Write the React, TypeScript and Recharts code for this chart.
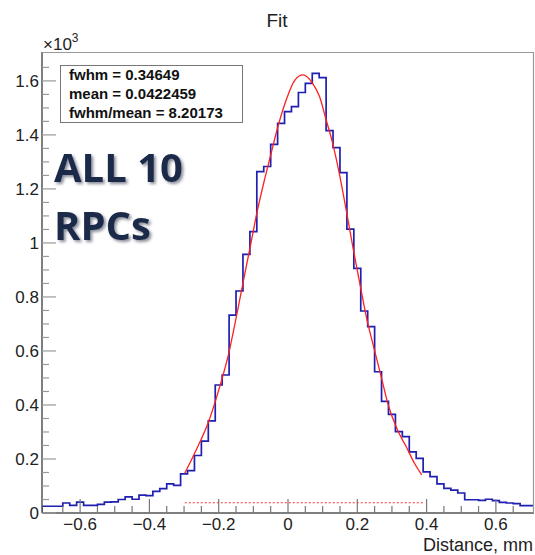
import { ComposedChart, Line, XAxis, YAxis } from "recharts";

// histogram, 71 bins of 0.02 mm from -0.71 to 0.71, entries in units of 10^3
const binLow = -0.71;
const binWidth = 0.02;
const counts = [
  0.025, 0.025, 0.025, 0.037, 0.028, 0.040, 0.028, 0.028, 0.032, 0.040,
  0.041, 0.050, 0.060, 0.051, 0.066, 0.064, 0.080, 0.090, 0.108, 0.102,
  0.145, 0.157, 0.213, 0.266, 0.341, 0.474, 0.511, 0.733, 0.822, 0.958,
  1.042, 1.264, 1.283, 1.365, 1.443, 1.486, 1.505, 1.557, 1.591, 1.628,
  1.612, 1.416, 1.353, 1.260, 1.051, 0.906, 0.748, 0.690, 0.523, 0.413,
  0.365, 0.301, 0.283, 0.226, 0.202, 0.152, 0.135, 0.108, 0.091, 0.085,
  0.074, 0.049, 0.049, 0.047, 0.051, 0.046, 0.039, 0.037, 0.035, 0.027,
  0.027,
];

// fitted curve
const fitX = [
  -0.298, -0.265, -0.231, -0.197, -0.171, -0.149, -0.13, -0.109, -0.09, -0.068,
  -0.051, -0.029, -0.005, 0.019, 0.043, 0.071, 0.091, 0.11, 0.129, 0.148,
  0.168, 0.187, 0.209, 0.228, 0.247, 0.269, 0.288, 0.316, 0.341, 0.365, 0.386,
];
const fitY = [
  0.147, 0.233, 0.332, 0.468, 0.591, 0.727, 0.851, 0.986, 1.11, 1.233,
  1.32, 1.431, 1.53, 1.601, 1.622, 1.591, 1.542, 1.456, 1.369, 1.258,
  1.122, 0.986, 0.838, 0.715, 0.616, 0.505, 0.406, 0.307, 0.246, 0.184, 0.141,
];

// fit range marker
const rangeX = [-0.298, 0.389];
const rangeY = 0.038;

const xTicks = [
  -0.65, -0.6, -0.55, -0.5, -0.45, -0.4, -0.35, -0.3, -0.25, -0.2, -0.15, -0.1, -0.05,
  0, 0.05, 0.1, 0.15, 0.2, 0.25, 0.3, 0.35, 0.4, 0.45, 0.5, 0.55, 0.6, 0.65,
];
const yTicks = [
  0, 0.05, 0.1, 0.15, 0.2, 0.25, 0.3, 0.35, 0.4, 0.45, 0.5, 0.55, 0.6, 0.65, 0.7,
  0.75, 0.8, 0.85, 0.9, 0.95, 1, 1.05, 1.1, 1.15, 1.2, 1.25, 1.3, 1.35, 1.4, 1.45,
  1.5, 1.55, 1.6, 1.65,
];

const statLines = ["fwhm = 0.34649", "mean = 0.0422459", "fwhm/mean = 8.20173"];

const histData: { x: number; y: number }[] = [{ x: binLow, y: 0 }];
counts.forEach((c, i) => histData.push({ x: +(binLow + i * binWidth).toFixed(2), y: c }));
histData.push({ x: +(binLow + counts.length * binWidth).toFixed(2), y: counts[counts.length - 1] });
histData.push({ x: +(binLow + counts.length * binWidth).toFixed(2), y: 0 });

const fitData = fitX.map((x, i) => ({ x, y: fitY[i] }));
const rangeData = rangeX.map((x) => ({ x, y: rangeY }));

const isMajor = (v: number) => Math.abs(v * 5 - Math.round(v * 5)) < 1e-6;
const fmt = (v: number) => {
  const s = String(+v.toFixed(2));
  return s.startsWith("-") ? "\u2212" + s.slice(1) : s;
};

const FONT = "'Liberation Sans', Arial, Helvetica, sans-serif";

const YTick = ({ x, y, payload }: any) => {
  const v = payload.value;
  const major = isMajor(v);
  return (
    <g>
      <line x1={x} x2={x + (major ? 14 : 7)} y1={y} y2={y} stroke="#999" strokeWidth={1.2} />
      {major && (
        <text x={x - 3} y={y + 6} textAnchor="end" fontSize={17} fill="#222" fontFamily={FONT}>
          {fmt(v)}
        </text>
      )}
    </g>
  );
};

const XTick = ({ x, y, payload }: any) => {
  const v = payload.value;
  const major = isMajor(v);
  return (
    <g>
      <line x1={x} x2={x} y1={y} y2={y - (major ? 14 : 7)} stroke="#777" strokeWidth={1.2} />
      {major && (
        <text x={x} y={y + 17} textAnchor="middle" fontSize={17} fill="#222" fontFamily={FONT}>
          {fmt(v)}
        </text>
      )}
    </g>
  );
};

export default function App() {
  return (
    <div style={{ position: "absolute", left: 0, top: 0, width: 535, height: 555, background: "#fff" }}>
      <ComposedChart width={535} height={555} margin={{ top: 52, right: 1, bottom: 0, left: 0 }}>
        <XAxis
          type="number"
          dataKey="x"
          domain={[-0.71, 0.71]}
          ticks={xTicks}
          interval={0}
          height={42}
          tickSize={0}
          tickMargin={0}
          tickLine={false}
          axisLine={{ stroke: "#555", strokeWidth: 1.5 }}
          tick={<XTick />}
          allowDataOverflow
        />
        <YAxis
          type="number"
          dataKey="y"
          domain={[0, 1.707]}
          ticks={yTicks}
          interval={0}
          width={42}
          tickSize={0}
          tickMargin={0}
          tickLine={false}
          axisLine={{ stroke: "#555", strokeWidth: 1.5 }}
          tick={<YTick />}
          allowDataOverflow
        />
        <Line
          data={histData}
          dataKey="y"
          type="stepAfter"
          stroke="#1f1fb0"
          strokeWidth={1.7}
          dot={false}
          isAnimationActive={false}
        />
        <Line
          data={fitData}
          dataKey="y"
          type="monotone"
          stroke="#ff2020"
          strokeWidth={1.3}
          dot={false}
          isAnimationActive={false}
        />
        <Line
          data={rangeData}
          dataKey="y"
          type="linear"
          stroke="#ff3030"
          strokeWidth={1.2}
          strokeDasharray="2 2"
          dot={false}
          isAnimationActive={false}
        />
      </ComposedChart>
      <svg
        width={535}
        height={555}
        style={{ position: "absolute", left: 0, top: 0, pointerEvents: "none" }}
        fontFamily={FONT}
      >
        <defs>
          <filter id="shadow" x="-20%" y="-20%" width="140%" height="150%">
            <feDropShadow dx="2" dy="2" stdDeviation="1.8" floodColor="#6a7080" floodOpacity="0.8" />
          </filter>
        </defs>
        <line x1={42} x2={534} y1={52.5} y2={52.5} stroke="#999" strokeWidth={1.2} />
        <line x1={533.5} x2={533.5} y1={52} y2={513} stroke="#999" strokeWidth={1.2} />
        <text x={277} y={27} textAnchor="middle" fontSize={19} fill="#222">
          Fit
        </text>
        <text x={43} y={50} fontSize={17} fill="#222">
          ×10
          <tspan fontSize={12} dy={-8}>
            3
          </tspan>
        </text>
        <rect x={60.5} y={65.5} width={182} height={57} fill="#fff" stroke="#777" strokeWidth={1} />
        {statLines.map((s, i) => (
          <text key={s} x={69} y={80 + i * 19} fontSize={15} fontWeight="bold" fill="#111">
            {s}
          </text>
        ))}
        <g fontFamily="'Open Sans', sans-serif" fontWeight={700} fontSize={40} fill="#1b2a4a" filter="url(#shadow)">
          <text x={54} y={182}>ALL 10</text>
          <text x={54} y={240}>RPCs</text>
        </g>
        <text x={533} y={551} textAnchor="end" fontSize={18} fill="#222">
          Distance, mm
        </text>
      </svg>
    </div>
  );
}
